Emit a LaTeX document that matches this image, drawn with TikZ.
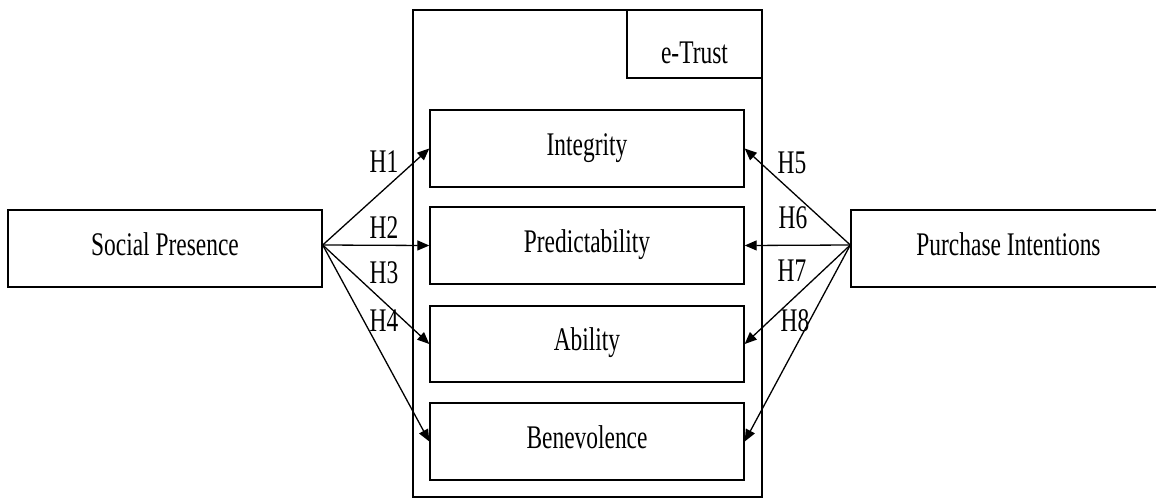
\documentclass[tikz,border=0pt]{standalone}
\usepackage{fontspec}
\setmainfont{Liberation Serif}
\usepackage{graphicx}
\usetikzlibrary{arrows.meta}
\newcommand{\nt}[1]{\scalebox{0.71}[1]{#1}}
\begin{document}
\begin{tikzpicture}[x=1pt,y=-1pt,
  box/.style={draw, line width=1.4pt, inner sep=0pt, text height=13pt, text depth=0pt,
    font=\fontsize{33}{36}\selectfont},
  hlab/.style={inner sep=0pt, font=\fontsize{33}{36}\selectfont},
  conn/.style={line width=1.3pt, -{Triangle[length=12pt,width=10pt]}}]
\useasboundingbox (0,0) rectangle (1156,499);
% outer e-Trust box
\node[box, minimum width=349pt, minimum height=487pt] (et) at (587.5,253.5) {};
\node[box, minimum width=135pt, minimum height=68pt, text height=38pt] (etl) at (694.5,44) {\nt{e-Trust}};
% inner boxes
\node[box, minimum width=314pt, minimum height=77pt] (int) at (587,148.5) {\nt{Integrity}};
\node[box, minimum width=314pt, minimum height=77pt] (pre) at (587,245.5) {\nt{Predictability}};
\node[box, minimum width=314pt, minimum height=76pt] (abi) at (587,344) {\nt{Ability}};
\node[box, minimum width=314pt, minimum height=77pt] (ben) at (587,441.5) {\nt{Benevolence}};
% outer constructs
\node[box, minimum width=314pt, minimum height=77pt] (sp) at (165,248.5) {\nt{Social Presence}};
\node[box, minimum width=315pt, minimum height=77pt] (pi) at (1008.5,248.5) {\nt{Purchase Intentions}};
\coordinate (spo) at ([yshift=3.5pt]sp.east);
\coordinate (pio) at ([yshift=3.5pt]pi.west);
% connectors
\draw[conn] (spo) -- (int.west);
\draw[conn] (spo) -- (pre.west);
\draw[conn] (spo) -- (abi.west);
\draw[conn] (spo) -- (ben.west);
\draw[conn] (pio) -- (int.east);
\draw[conn] (pio) -- (pre.east);
\draw[conn] (pio) -- (abi.east);
\draw[conn] (pio) -- (ben.east);
% labels
\node[hlab] (h1) at (384,161.5) {\nt{H1}};
\node[hlab] (h2) at (384,228) {\nt{H2}};
\node[hlab] (h3) at (384,273) {\nt{H3}};
\node[hlab] (h4) at (384,321) {\nt{H4}};
\node[hlab] (h5) at (792,162.5) {\nt{H5}};
\node[hlab] (h6) at (793,218) {\nt{H6}};
\node[hlab] (h7) at (792,271) {\nt{H7}};
\node[hlab] (h8) at (795,321) {\nt{H8}};
\end{tikzpicture}
\end{document}
